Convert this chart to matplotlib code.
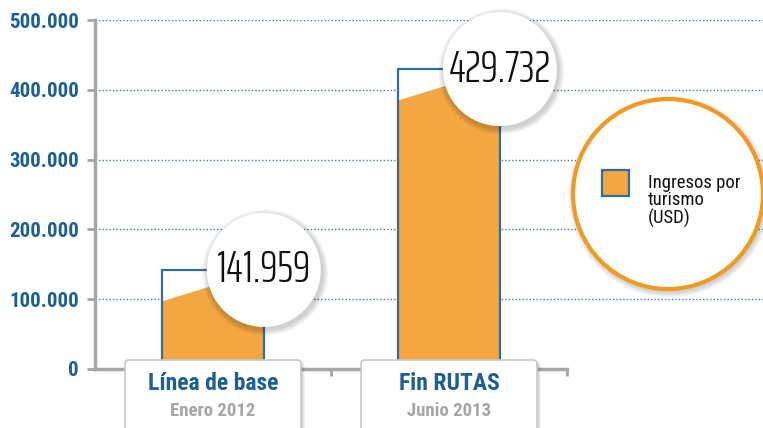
import matplotlib
matplotlib.use('Agg')
import matplotlib.pyplot as plt
from matplotlib.patches import Circle, FancyBboxPatch, Polygon, Rectangle
from matplotlib.transforms import IdentityTransform

categories = ['Línea de base', 'Fin RUTAS']
periods = ['Enero 2012', 'Junio 2013']
values = [141959, 429732]
value_labels = ['141.959', '429.732']
y_ticks = [0, 100000, 200000, 300000, 400000, 500000]
y_tick_labels = ['0', '100.000', '200.000', '300.000', '400.000', '500.000']
legend_label = 'Ingresos por\nturismo\n(USD)'

BLUE = '#1b5f95'
BAR_EDGE = '#2f6fa0'
ORANGE = '#f3a641'
RING = '#f29a1f'
GRAY = '#a6a6a6'
COND = ['Roboto Condensed', 'DejaVu Sans']
THIN = ['Saira ExtraCondensed', 'Roboto Condensed', 'DejaVu Sans']

W, H = 763, 428
fig = plt.figure(figsize=(W / 100, H / 100), dpi=100)
ax = fig.add_axes([95 / W, 59 / H, (W - 95) / W, 349 / H])
ax.set_xlim(-0.5, 2.33)
ax.set_ylim(0, 500000)
ident = IdentityTransform()


def px(x, y_top):
    # pixel position measured from the top-left corner -> display coords
    return (x, H - y_top)


def shadow_circle(center, r, z):
    for i in range(6):
        ax.add_patch(Circle((center[0] + 1.5, center[1] - 2.5), r + 1 + i, transform=ident,
                            facecolor='black', edgecolor='none', alpha=0.03,
                            clip_on=False, zorder=z))


# axes
for s in ['top', 'right']:
    ax.spines[s].set_visible(False)
ax.spines['left'].set_color(GRAY)
ax.spines['left'].set_linewidth(2.5)
ax.spines['left'].set_bounds(0, 500000)
ax.spines['bottom'].set_color(GRAY)
ax.spines['bottom'].set_linewidth(2.5)
ax.spines['bottom'].set_bounds(-0.5, 1.5)

ax.set_yticks(y_ticks)
ax.set_yticklabels(y_tick_labels, fontfamily=COND, fontweight='bold', fontsize=15, color=BLUE)
ax.tick_params(axis='y', length=5.5, width=2, color=GRAY, pad=6)
ax.set_xticks([0.5, 1.5])
ax.set_xticklabels([])
ax.tick_params(axis='x', length=5, width=2, color=GRAY)

ax.hlines(y_ticks[1:], -0.5, 2.33, colors='#3d7db2', linestyles=(0, (1, 1.5)), linewidth=1, zorder=1)

# bars
x = list(range(len(values)))
bw = 0.43
ax.bar(x, values, width=bw, color='white', edgecolor='none', zorder=2)
for xi, v in zip(x, values):
    ax.add_patch(Polygon([(xi - bw / 2, 0), (xi + bw / 2, 0), (xi + bw / 2, v),
                          (xi - bw / 2, v - 45000)], closed=True,
                         facecolor=ORANGE, edgecolor='none', zorder=3))
ax.bar(x, values, width=bw, fill=False, edgecolor=BAR_EDGE, linewidth=1.6, zorder=4)

# value bubbles
for xi, v, lab in zip(x, values, value_labels):
    c = ax.transData.transform((xi + bw / 2, v))
    shadow_circle(c, 57, 5)
    ax.add_patch(Circle(c, 57, transform=ident, facecolor='white', edgecolor='none',
                        clip_on=False, zorder=6))
    ax.annotate(lab, xy=(xi + bw / 2, v), ha='center', va='center', fontsize=32,
                fontfamily=THIN, fontweight=300, color='#111111', zorder=7,
                annotation_clip=False)

# category boxes
y0 = ax.transData.transform((0, 0))[1]
for xi, cat, per in zip(x, categories, periods):
    cx = ax.transData.transform((xi, 0))[0]
    for i in range(4):
        ax.add_patch(FancyBboxPatch((cx - 88 + 1, y0 - 80 - i), 176 + i, 89, transform=ident,
                                    boxstyle='round,pad=0,rounding_size=4', facecolor='black',
                                    edgecolor='none', alpha=0.05, clip_on=False, zorder=8))
    ax.add_patch(FancyBboxPatch((cx - 88, y0 - 80), 176, 89, transform=ident,
                                boxstyle='round,pad=0,rounding_size=4', facecolor='white',
                                edgecolor='#c8c8c8', linewidth=1.2, clip_on=False, zorder=9))
    ax.annotate(cat, xy=(xi, 0), xytext=(0, -15), textcoords='offset pixels', ha='center',
                va='center', fontsize=17, fontweight='bold', fontfamily=COND, color=BLUE,
                zorder=10, annotation_clip=False)
    ax.annotate(per, xy=(xi, 0), xytext=(0, -42), textcoords='offset pixels', ha='center',
                va='center', fontsize=13.5, fontweight='bold', fontfamily=COND, color=GRAY,
                zorder=10, annotation_clip=False)

# legend bubble
lc = px(668, 194)
shadow_circle(lc, 95, 5)
ax.add_patch(Circle(lc, 95, transform=ident, facecolor='white', edgecolor=RING, linewidth=3,
                    clip_on=False, zorder=6))
sq = px(602, 196)
ax.add_patch(Rectangle(sq, 27, 26, transform=ident, facecolor=ORANGE, edgecolor=BAR_EDGE,
                       linewidth=1.6, clip_on=False, zorder=7))
ax.text(*px(648, 174), legend_label, transform=ident, ha='left', va='top', fontsize=13.5,
        fontfamily=COND, color='#111111', linespacing=0.95, zorder=7)

fig.savefig('out.png', dpi=100)
